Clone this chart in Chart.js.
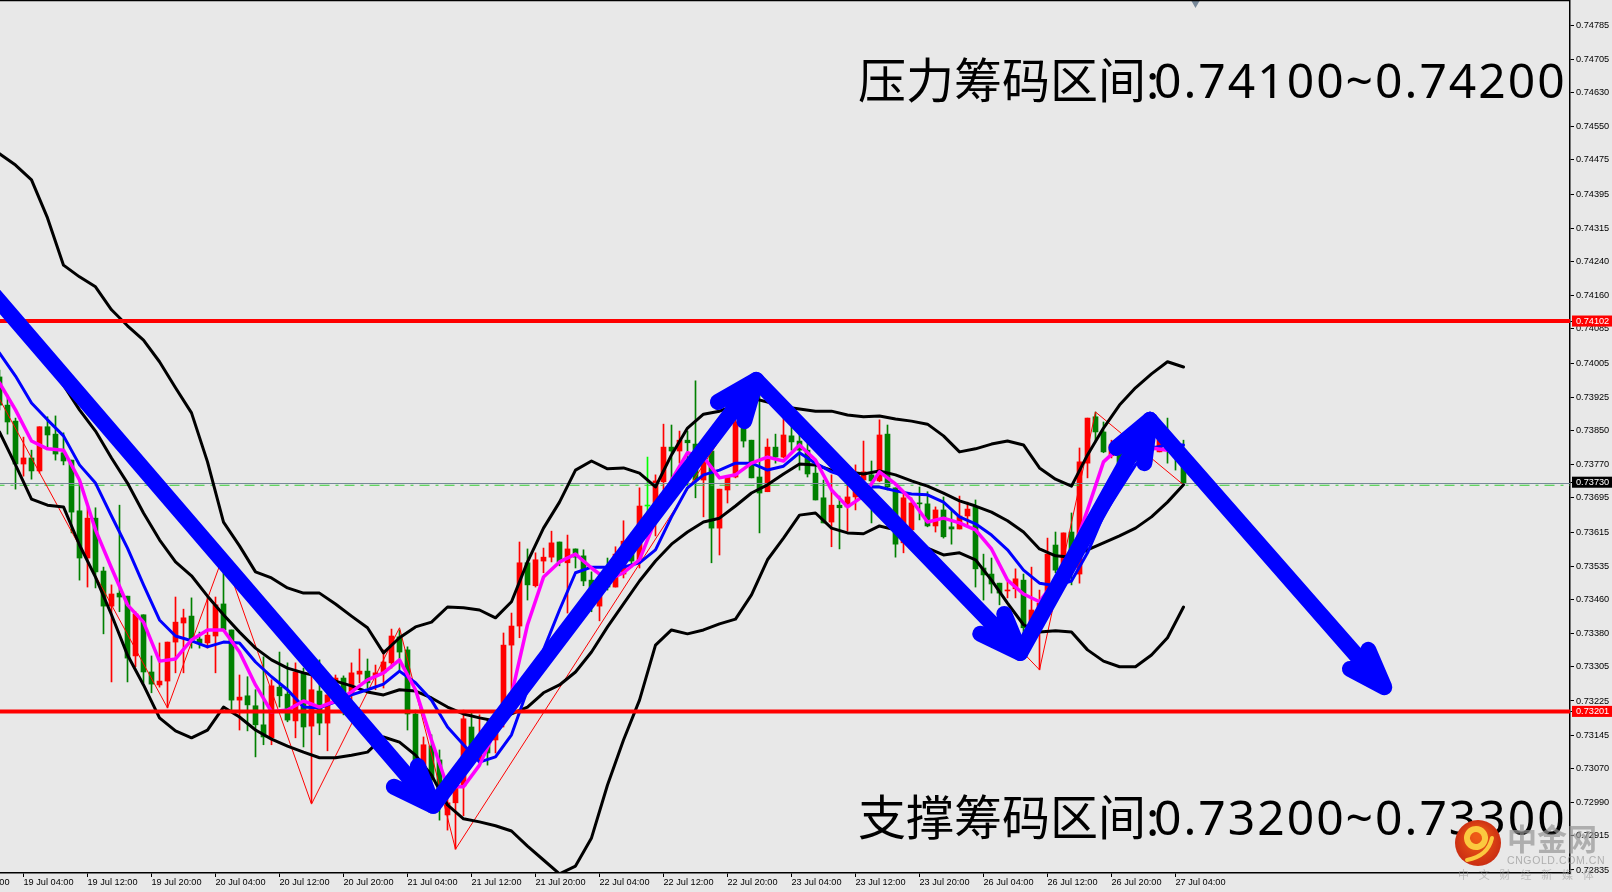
<!DOCTYPE html>
<html>
<head>
<meta charset="utf-8">
<title>NZDUSD H1</title>
<script src="https://cdn.jsdelivr.net/npm/chart.js@4/dist/chart.umd.min.js"></script>
<style>
    html, body { margin: 0; padding: 0; background: #E8E8E8; overflow: hidden; }
    canvas { display: block; }
</style>
</head>
<body>
<canvas id="klineChart" width="1612" height="892"></canvas>
<script>
// 1 bar = 1 hour
const candleOpen = [
    0.73973,0.73908,0.73871,0.73772,0.73786,0.73756,0.73858,0.73841,0.73798,0.73781,
    0.73664,0.73555,0.73647,0.73525,0.73444,0.73474,0.73467,0.73329,0.73424,0.73292,
    0.73262,0.73271,0.73361,0.73405,0.73421,0.73368,0.73359,0.73375,0.73449,0.73389,
    0.73227,0.73237,0.73214,0.73170,0.73140,0.73257,0.73241,0.73179,0.73290,0.73167,
    0.73248,0.73174,0.73267,0.73278,0.73239,0.73287,0.73294,0.73281,0.73290,0.73313,
    0.73373,0.73343,0.73195,0.73059,0.73121,0.73089,0.72962,0.72990,0.73029,0.73165,
    0.73089,0.73170,0.73135,0.73197,0.73354,0.73398,0.73544,0.73491,0.73548,0.73557,
    0.73592,0.73544,0.73576,0.73560,0.73504,0.73444,0.73521,0.73488,0.73518,0.73594,
    0.73551,0.73675,0.73673,0.73731,0.73811,0.73802,0.73827,0.73818,0.73735,0.73802,
    0.73624,0.73712,0.73742,0.73855,0.73827,0.73742,0.73708,0.73811,0.73788,0.73837,
    0.73825,0.73804,0.73751,0.73694,0.73638,0.73677,0.73673,0.73696,0.73735,0.73747,
    0.73733,0.73841,0.73717,0.73590,0.73620,0.73682,0.73680,0.73629,0.73666,0.73627,
    0.73622,0.73652,0.73673,0.73532,0.73518,0.73497,0.73479,0.73484,0.73504,0.73396,
    0.73435,0.73451,0.73585,0.73534,0.73615,0.73518,0.73774,0.73881,0.73846,0.73791,
    0.73798,0.73827,0.73804,0.73793,0.73816,0.73800,0.73816,0.73804,0.73770
];
const candleHigh = [
    0.73989,0.73931,0.73878,0.73834,0.73804,0.73858,0.73881,0.73883,0.73844,0.73781,
    0.73728,0.73671,0.73671,0.73534,0.73493,0.73677,0.73467,0.73431,0.73424,0.73329,
    0.73359,0.73361,0.73465,0.73437,0.73463,0.73384,0.73463,0.73465,0.73534,0.73389,
    0.73285,0.73281,0.73251,0.73327,0.73274,0.73338,0.73313,0.73313,0.73301,0.73285,
    0.73320,0.73262,0.73285,0.73283,0.73313,0.73345,0.73322,0.73308,0.73343,0.73391,
    0.73389,0.73350,0.73204,0.73142,0.73147,0.73112,0.73020,0.73025,0.73204,0.73197,
    0.73193,0.73181,0.73193,0.73382,0.73428,0.73592,0.73576,0.73567,0.73578,0.73617,
    0.73592,0.73608,0.73576,0.73574,0.73523,0.73504,0.73555,0.73581,0.73641,0.73613,
    0.73717,0.73788,0.73747,0.73864,0.73862,0.73848,0.73848,0.73964,0.73793,0.73802,
    0.73714,0.73744,0.73881,0.73867,0.73827,0.73971,0.73830,0.73841,0.73881,0.73867,
    0.73839,0.73851,0.73781,0.73735,0.73747,0.73698,0.73728,0.73770,0.73825,0.73779,
    0.73874,0.73862,0.73717,0.73705,0.73694,0.73719,0.73708,0.73673,0.73696,0.73666,
    0.73698,0.73684,0.73689,0.73564,0.73555,0.73497,0.73500,0.73530,0.73518,0.73534,
    0.73481,0.73601,0.73615,0.73613,0.73659,0.73809,0.73878,0.73892,0.73869,0.73827,
    0.73816,0.73846,0.73834,0.73832,0.73851,0.73846,0.73878,0.73827,0.73827
];
const candleLow = [
    0.73897,0.73841,0.73714,0.73744,0.73737,0.73751,0.73807,0.73781,0.73770,0.73613,
    0.73504,0.73488,0.73486,0.73380,0.73269,0.73431,0.73269,0.73304,0.73267,0.73244,
    0.73257,0.73209,0.73290,0.73290,0.73347,0.73347,0.73347,0.73290,0.73389,0.73204,
    0.73158,0.73156,0.73096,0.73124,0.73124,0.73211,0.73177,0.73140,0.73119,0.72990,
    0.73147,0.73110,0.73227,0.73193,0.73204,0.73267,0.73255,0.73251,0.73255,0.73301,
    0.73297,0.73158,0.73066,0.73043,0.73020,0.72950,0.72927,0.72883,0.72960,0.73105,
    0.73082,0.73077,0.73105,0.73165,0.73234,0.73371,0.73458,0.73488,0.73521,0.73546,
    0.73537,0.73428,0.73532,0.73491,0.73431,0.73410,0.73481,0.73488,0.73509,0.73534,
    0.73532,0.73620,0.73606,0.73708,0.73719,0.73774,0.73724,0.73694,0.73650,0.73544,
    0.73562,0.73682,0.73740,0.73811,0.73740,0.73613,0.73708,0.73774,0.73786,0.73804,
    0.73758,0.73742,0.73689,0.73636,0.73581,0.73576,0.73617,0.73666,0.73712,0.73636,
    0.73731,0.73712,0.73557,0.73567,0.73615,0.73643,0.73627,0.73615,0.73601,0.73587,
    0.73622,0.73631,0.73488,0.73458,0.73474,0.73447,0.73463,0.73463,0.73373,0.73373,
    0.73297,0.73428,0.73521,0.73527,0.73493,0.73497,0.73740,0.73823,0.73798,0.73786,
    0.73758,0.73781,0.73777,0.73786,0.73777,0.73800,0.73774,0.73758,0.73726
];
const candleClose = [
    0.73908,0.73869,0.73772,0.73786,0.73756,0.73858,0.73839,0.73795,0.73779,0.73661,
    0.73555,0.73647,0.73523,0.73444,0.73472,0.73465,0.73324,0.73426,0.73292,0.73264,
    0.73271,0.73361,0.73407,0.73417,0.73361,0.73359,0.73377,0.73447,0.73389,0.73227,
    0.73234,0.73216,0.73170,0.73142,0.73260,0.73237,0.73181,0.73292,0.73165,0.73251,
    0.73174,0.73239,0.73278,0.73239,0.73290,0.73294,0.73267,0.73290,0.73315,0.73375,
    0.73338,0.73195,0.73089,0.73124,0.73043,0.73020,0.72990,0.73025,0.73184,0.73119,
    0.73142,0.73105,0.73165,0.73354,0.73398,0.73544,0.73493,0.73551,0.73557,0.73590,
    0.73546,0.73576,0.73557,0.73502,0.73474,0.73481,0.73488,0.73564,0.73594,0.73548,
    0.73675,0.73675,0.73733,0.73811,0.73802,0.73827,0.73821,0.73735,0.73788,0.73624,
    0.73714,0.73744,0.73869,0.73825,0.73740,0.73705,0.73811,0.73788,0.73839,0.73823,
    0.73804,0.73749,0.73689,0.73636,0.73677,0.73671,0.73696,0.73740,0.73754,0.73733,
    0.73839,0.73719,0.73587,0.73694,0.73682,0.73680,0.73629,0.73666,0.73604,0.73622,
    0.73652,0.73668,0.73530,0.73516,0.73495,0.73474,0.73481,0.73507,0.73394,0.73435,
    0.73451,0.73564,0.73527,0.73613,0.73567,0.73777,0.73878,0.73846,0.73800,0.73816,
    0.73770,0.73793,0.73781,0.73816,0.73804,0.73830,0.73804,0.73798,0.73728
];

// bands and averages, one reading every second bar
const upperBand = [
    0.74488,0.74462,0.74428,0.74340,0.74231,0.74204,0.74181,0.74128,0.74091,0.74058,
    0.74008,0.73948,0.73890,0.73777,0.73638,0.73583,0.73523,0.73509,0.73486,0.73474,
    0.73474,0.73449,0.73421,0.73394,0.73336,0.73371,0.73396,0.73407,0.73442,0.73440,
    0.73435,0.73417,0.73454,0.73546,0.73624,0.73684,0.73758,0.73779,0.73761,0.73763,
    0.73751,0.73719,0.73793,0.73855,0.73887,0.73894,0.73908,0.73924,0.73915,0.73904,
    0.73899,0.73894,0.73894,0.73885,0.73881,0.73883,0.73876,0.73871,0.73864,0.73837,
    0.73800,0.73807,0.73818,0.73825,0.73816,0.73763,0.73737,0.73721,0.73793,0.73855,
    0.73908,0.73948,0.73980,0.74008,0.73996
];
const middleBand = [
    0.74151,0.74104,0.74058,0.74001,0.73954,0.73897,0.73848,0.73786,0.73728,0.73659,
    0.73597,0.73546,0.73514,0.73467,0.73424,0.73384,0.73347,0.73320,0.73301,0.73290,
    0.73281,0.73271,0.73260,0.73246,0.73239,0.73251,0.73248,0.73232,0.73211,0.73195,
    0.73186,0.73179,0.73195,0.73211,0.73244,0.73262,0.73292,0.73338,0.73396,0.73449,
    0.73502,0.73548,0.73587,0.73615,0.73638,0.73647,0.73675,0.73705,0.73724,0.73749,
    0.73772,0.73770,0.73758,0.73754,0.73749,0.73756,0.73747,0.73733,0.73721,0.73705,
    0.73687,0.73675,0.73661,0.73641,0.73615,0.73576,0.73560,0.73557,0.73574,0.73590,
    0.73606,0.73624,0.73650,0.73684,0.73724
];
const lowerBand = [
    0.73846,0.73770,0.73691,0.73677,0.73673,0.73585,0.73511,0.73424,0.73331,0.73262,
    0.73186,0.73156,0.73140,0.73158,0.73211,0.73188,0.73158,0.73137,0.73121,0.73107,
    0.73094,0.73094,0.73100,0.73107,0.73142,0.73130,0.73100,0.73054,0.72985,0.72953,
    0.72946,0.72937,0.72925,0.72890,0.72858,0.72826,0.72844,0.72909,0.73031,0.73135,
    0.73227,0.73354,0.73389,0.73380,0.73389,0.73403,0.73414,0.73470,0.73551,0.73601,
    0.73654,0.73659,0.73624,0.73613,0.73611,0.73629,0.73620,0.73597,0.73578,0.73562,
    0.73567,0.73551,0.73504,0.73451,0.73401,0.73384,0.73387,0.73384,0.73343,0.73317,
    0.73304,0.73304,0.73331,0.73371,0.73442
];
const fastAverage = [
    0.73959,0.73897,0.73825,0.73807,0.73804,0.73735,0.73620,0.73532,0.73447,0.73407,
    0.73317,0.73322,0.73366,0.73389,0.73389,0.73338,0.73262,0.73200,0.73204,0.73225,
    0.73211,0.73225,0.73246,0.73274,0.73290,0.73320,0.73251,0.73135,0.73027,0.73027,
    0.73077,0.73158,0.73239,0.73401,0.73511,0.73546,0.73564,0.73532,0.73504,0.73521,
    0.73551,0.73643,0.73735,0.73798,0.73788,0.73740,0.73747,0.73774,0.73788,0.73779,
    0.73816,0.73781,0.73712,0.73673,0.73698,0.73754,0.73726,0.73689,0.73638,0.73647,
    0.73636,0.73620,0.73576,0.73504,0.73472,0.73454,0.73504,0.73562,0.73666,0.73777,
    0.73811,0.73816,0.73809,0.73804,0.73793
];
const slowAverage = [
    0.74028,0.73975,0.73913,0.73874,0.73837,0.73770,0.73728,0.73652,0.73578,0.73493,
    0.73412,0.73375,0.73364,0.73350,0.73361,0.73359,0.73315,0.73281,0.73251,0.73211,
    0.73209,0.73223,0.73239,0.73251,0.73264,0.73294,0.73267,0.73227,0.73165,0.73124,
    0.73084,0.73096,0.73147,0.73251,0.73343,0.73435,0.73521,0.73534,0.73534,0.73534,
    0.73544,0.73574,0.73650,0.73717,0.73747,0.73758,0.73774,0.73774,0.73758,0.73767,
    0.73798,0.73774,0.73754,0.73742,0.73719,0.73719,0.73710,0.73703,0.73701,0.73684,
    0.73650,0.73634,0.73608,0.73574,0.73527,0.73497,0.73491,0.73502,0.73567,0.73654,
    0.73712,0.73770,0.73809,0.73816,0.73816
];

const zigzagBars = [0, 21, 28, 39, 50, 57, 95, 130, 137, 148];
const zigzagPrices = [0.73922, 0.73209, 0.73562, 0.72987, 0.73394, 0.72883, 0.73971, 0.73297, 0.73892, 0.73724];

// hand drawn arrows: start, tip, barb, tip, barb
const arrowBars = [
    [-1, 54.2, 52.3, 54.2, 49.3],
    [54.2, 94.6, 89.8, 94.6, 93.1],
    [94.6, 127.6, 122.6, 127.6, 125.6],
    [127.6, 143.8, 139.6, 143.8, 143.1],
    [143.8, 173.1, 168.8, 173.1, 171.1]
];
const arrowPrices = [
    [0.74169, 0.72983, 0.73075, 0.72983, 0.73027],
    [0.72983, 0.73966, 0.73915, 0.73966, 0.73871],
    [0.73966, 0.73336, 0.73380, 0.73336, 0.73426],
    [0.73336, 0.73874, 0.73809, 0.73874, 0.73774],
    [0.73874, 0.73257, 0.73299, 0.73257, 0.73343]
];

const resistanceLevel = 0.74102;
const supportLevel = 0.73201;
const askPrice = 0.73727;
const bidPrice = 0.73723;
const currentPrice = 0.73730;
const shiftMarkerBar = [149.5];
const shiftMarkerPrice = [0.74836];

const yTickValues = [
    0.74785,0.74705,0.74630,0.74550,0.74475,0.74395,0.74315,0.74240,0.74160,0.74085,
    0.74005,0.73925,0.73850,0.73770,0.73695,0.73615,0.73535,0.73460,0.73380,0.73305,
    0.73225,0.73145,0.73070,0.72990,0.72915,0.72835
];
const xTickBars = [-5, 3, 11, 19, 27, 35, 43, 51, 59, 67, 75, 83, 91, 99, 107, 115, 123, 131, 139, 147];
const xTickLabels = [
    '18 Jul 20:00', '19 Jul 04:00', '19 Jul 12:00', '19 Jul 20:00', '20 Jul 04:00',
    '20 Jul 12:00', '20 Jul 20:00', '21 Jul 04:00', '21 Jul 12:00', '21 Jul 20:00',
    '22 Jul 04:00', '22 Jul 12:00', '22 Jul 20:00', '23 Jul 04:00', '23 Jul 12:00',
    '23 Jul 20:00', '26 Jul 04:00', '26 Jul 12:00', '26 Jul 20:00', '27 Jul 04:00'
];

const resistanceTitle = '压力筹码区间:';
const resistanceRange = '0.74100~0.74200';
const supportTitle = '支撑筹码区间:';
const supportRange = '0.73200~0.73300';

const BG = '#E8E8E8';
const UP = '#FF0000';
const DOWN = '#008000';
const DOJI = '#00FF00';
const CJK = '"Noto Sans CJK SC", "Noto Sans", sans-serif';

// price labels with a coloured box on the axis
const boxedLabels = { [resistanceLevel]: UP, [supportLevel]: UP, [currentPrice]: '#000000' };

const candleColors = candleOpen.map((o, i) => {
    if (o === candleClose[i]) return DOJI;
    return candleClose[i] > o ? UP : DOWN;
});

function bandPoints(values) {
    return values.map((y, i) => ({ x: i * 2, y: y }));
}

function lineData(label, data, color, width, order) {
    return {
        type: 'line', label, data, borderColor: color, borderWidth: width, order,
        pointRadius: 0, tension: 0, fill: false,
        borderJoinStyle: 'round', borderCapStyle: 'round'
    };
}

function levelLine(label, price, color, width, order, dash) {
    const line = lineData(label, [{ x: -10, y: price }, { x: 200, y: price }], color, width, order);
    line.borderCapStyle = 'butt';
    if (dash) line.borderDash = dash;
    return line;
}

// first/last labels must not push the plot area inwards
function clearScalePadding(scale) {
    scale.paddingLeft = 0;
    scale.paddingRight = 0;
    scale.paddingTop = 0;
    scale.paddingBottom = 0;
}

const datasets = [];

datasets.push({
    type: 'bar', label: 'wick', grouped: false, barThickness: 1, order: 9,
    data: candleHigh.map((h, i) => ({ x: i, y: [candleLow[i], h] })),
    backgroundColor: candleColors
});
datasets.push({
    type: 'bar', label: 'body', grouped: false, barThickness: 5, minBarLength: 1, order: 8,
    data: candleOpen.map((o, i) => ({ x: i, y: [o, candleClose[i]] })),
    backgroundColor: candleColors
});

datasets.push(lineData('zigzag', zigzagBars.map((x, i) => ({ x, y: zigzagPrices[i] })), '#FF0000', 1, 7));
datasets.push(levelLine('ask', askPrice, '#778899', 1, 7));
datasets.push(levelLine('bid', bidPrice, '#32CD32', 1, 7, [10, 6, 3, 6]));

datasets.push(lineData('upper', bandPoints(upperBand), '#000000', 3, 5));
datasets.push(lineData('middle', bandPoints(middleBand), '#000000', 3, 5));
datasets.push(lineData('lower', bandPoints(lowerBand), '#000000', 3, 5));
datasets.push(lineData('slow', bandPoints(slowAverage), '#0000FF', 3, 4));
datasets.push(lineData('fast', bandPoints(fastAverage), '#FF00FF', 3.5, 3));

datasets.push(levelLine('resistance', resistanceLevel, '#FF0000', 4, 2));
datasets.push(levelLine('support', supportLevel, '#FF0000', 4, 2));

arrowBars.forEach((bars, n) => {
    const points = bars.map((x, i) => ({ x, y: arrowPrices[n][i] }));
    datasets.push(lineData('arrow' + n, points, '#0000FF', 16, 1));
});

datasets.push({
    type: 'line', label: 'shift', order: 0, showLine: false,
    data: shiftMarkerBar.map((x, i) => ({ x, y: shiftMarkerPrice[i] })),
    pointStyle: 'triangle', pointRotation: 180, pointRadius: 5,
    pointBackgroundColor: '#778899', pointBorderWidth: 0, clip: false
});

// chart captions, logo and top frame line
const overlayPlugin = {
    id: 'overlay',
    afterDraw(chart) {
        const { ctx, chartArea } = chart;
        ctx.save();

        ctx.strokeStyle = '#000';
        ctx.lineWidth = 1.5;
        ctx.beginPath();
        ctx.moveTo(0, 0.5);
        ctx.lineTo(chartArea.right, 0.5);
        ctx.stroke();

        ctx.fillStyle = '#000';
        ctx.textBaseline = 'alphabetic';
        ctx.font = '48px ' + CJK;
        ctx.fillText(resistanceTitle, 858, 98);
        ctx.fillText(supportTitle, 858, 835);
        ctx.font = '48px "Noto Sans"';
        ctx.letterSpacing = '2px';
        ctx.fillText(resistanceRange, 1154, 98);
        ctx.fillText(supportRange, 1154, 835);
        ctx.letterSpacing = '0px';

        drawLogo(ctx);
        ctx.restore();
    }
};

function drawLogo(ctx) {
    const grad = ctx.createRadialGradient(1478, 835, 4, 1478, 843, 24);
    grad.addColorStop(0, '#EE5A16');
    grad.addColorStop(1, '#C92C12');
    ctx.fillStyle = grad;
    ctx.beginPath();
    ctx.arc(1478, 843, 23, 0, Math.PI * 2);
    ctx.fill();

    // swirl
    ctx.strokeStyle = '#FBC93F';
    ctx.lineCap = 'round';
    ctx.lineWidth = 6;
    ctx.beginPath();
    ctx.arc(1476, 838, 9, Math.PI * 0.9, Math.PI * 2.9);
    ctx.stroke();
    ctx.lineWidth = 4;
    ctx.beginPath();
    ctx.moveTo(1467, 860);
    ctx.quadraticCurveTo(1488, 856, 1492, 838);
    ctx.stroke();

    ctx.fillStyle = 'rgba(150,150,150,0.7)';
    ctx.font = 'bold 30px ' + CJK;
    ctx.fillText('中金网', 1507, 850);
    ctx.font = '10.5px "Liberation Sans"';
    ctx.letterSpacing = '0.6px';
    ctx.fillText('CNGOLD.COM.CN', 1507, 864);
    ctx.fillStyle = 'rgba(150,150,150,0.55)';
    ctx.font = '11px ' + CJK;
    ctx.letterSpacing = '9.8px';
    ctx.fillText('中文财经新媒体', 1458, 879);
    ctx.letterSpacing = '0px';
}

new Chart(document.getElementById('klineChart'), {
    type: 'bar',
    data: { datasets },
    plugins: [overlayPlugin],
    options: {
        responsive: false,
        animation: false,
        layout: { autoPadding: false, padding: 0 },
        plugins: { legend: { display: false }, tooltip: { enabled: false } },
        scales: {
            x: {
                type: 'linear',
                min: 0.0625,
                max: 196.3125,
                offset: false,
                afterFit: scale => {
                    scale.height = 19;
                    clearScalePadding(scale);
                },
                afterBuildTicks: scale => { scale.ticks = xTickBars.map(value => ({ value })); },
                border: { color: '#000', width: 1.5 },
                grid: { drawOnChartArea: false, tickLength: 4, tickColor: '#000', offset: false },
                ticks: {
                    autoSkip: false,
                    maxRotation: 0,
                    align: 'start',
                    padding: 0,
                    color: '#000',
                    font: { family: 'Liberation Sans', size: 9.2 },
                    callback: (value, index) => xTickLabels[index]
                }
            },
            y: {
                type: 'linear',
                position: 'right',
                min: 0.72828,
                max: 0.74843,
                afterFit: scale => {
                    scale.width = 42;
                    clearScalePadding(scale);
                },
                afterBuildTicks: scale => {
                    const boxed = [resistanceLevel, currentPrice, supportLevel];
                    scale.ticks = yTickValues.concat(boxed).map(value => ({ value }));
                },
                border: { color: '#000', width: 1.5 },
                grid: { drawOnChartArea: false, tickLength: 4, tickColor: '#000' },
                ticks: {
                    autoSkip: false,
                    padding: 2,
                    font: { family: 'Liberation Sans', size: 9.2 },
                    color: ctx => boxedLabels[ctx.tick.value] ? '#FFFFFF' : '#000000',
                    showLabelBackdrop: ctx => !!boxedLabels[ctx.tick.value],
                    backdropColor: ctx => boxedLabels[ctx.tick.value] || BG,
                    backdropPadding: { top: 0, bottom: 0, left: 4, right: 4 },
                    callback: value => value.toFixed(5)
                }
            }
        }
    }
});
</script>
</body>
</html>
